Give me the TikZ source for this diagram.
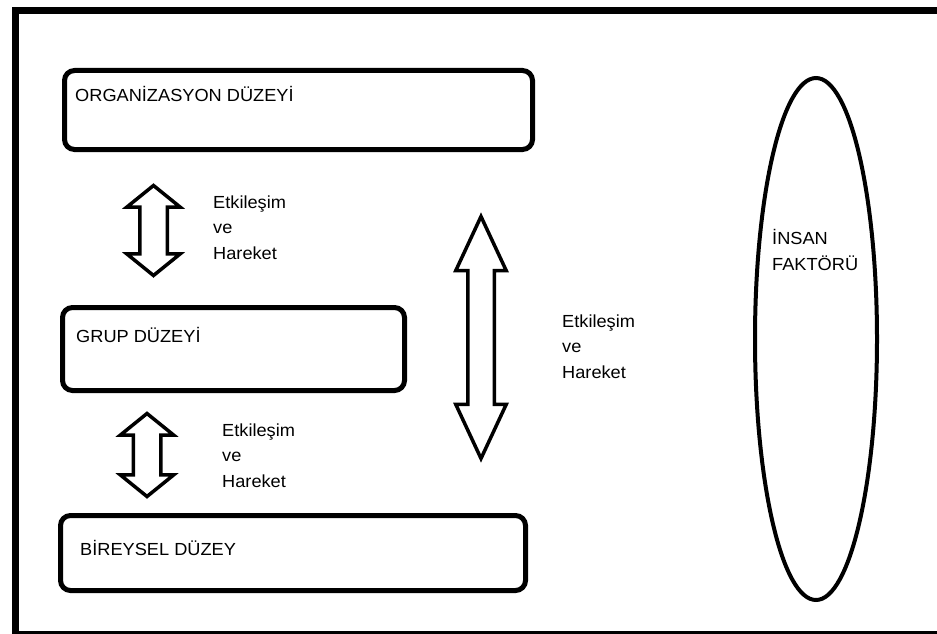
\documentclass[tikz,border=0pt]{standalone}
\usepackage{fontspec}
\setmainfont{Liberation Sans}[FakeStretch=1.04]
\usetikzlibrary{shapes.arrows,shapes.geometric}

\begin{document}
\begin{tikzpicture}[
                x=1pt, y=-1pt,
                every node/.style={inner sep=0pt,font=\fontsize{17.5}{25.5}\selectfont},
                levelbox/.style={draw,line width=5pt,rounded corners=10pt},
                lbl/.style={anchor=base west,align=left},
                flow/.style={draw,line width=3.5pt,fill=white,double arrow,rotate=90,inner xsep=0pt,inner ysep=12pt,
                        double arrow head extend=13pt,double arrow tip angle=102},
                bigflow/.style={flow,inner ysep=11.5pt,double arrow head extend=12pt,double arrow tip angle=50}
            ]

            \useasboundingbox (0,0) rectangle (937,634);
            \draw[line width=7pt] (15,11) rectangle (950,634);

            % levels
            \node[levelbox,minimum width=468pt,minimum height=79pt] (org) at (298.5,110) {};
            \node[levelbox,minimum width=342pt,minimum height=83pt] (grup) at (233.5,349) {};
            \node[levelbox,minimum width=465pt,minimum height=75pt] (birey) at (293,553) {};

            \node[lbl] (orgtext) at (75,101) {ORGANİZASYON DÜZEYİ};
            \node[lbl] (gruptext) at (76,342) {GRUP DÜZEYİ};
            \node[lbl] (bireytext) at (80,555) {BİREYSEL DÜZEY};

            % interactions
            \node[flow,minimum height=90pt] (orggrup) at (153.5,230.5) {};
            \node[flow,minimum height=83pt] (grupbirey) at (147,455) {};
            \node[bigflow,minimum height=242pt] (orgbirey) at (481,337.5) {};

            \node[lbl] (et1) at (213,259) {Etkileşim\\ve\\Hareket};
            \node[lbl] (et2) at (222,487) {Etkileşim\\ve\\Hareket};
            \node[lbl] (et3) at (562,378) {Etkileşim\\ve\\Hareket};

            % human factor
            \node[draw,ellipse,line width=4pt,minimum width=122pt,minimum height=522pt] (insan) at (816,339) {};
            \node[lbl] (insantext) at (772,270) {İNSAN\\FAKTÖRÜ};

        \end{tikzpicture}
\end{document}
